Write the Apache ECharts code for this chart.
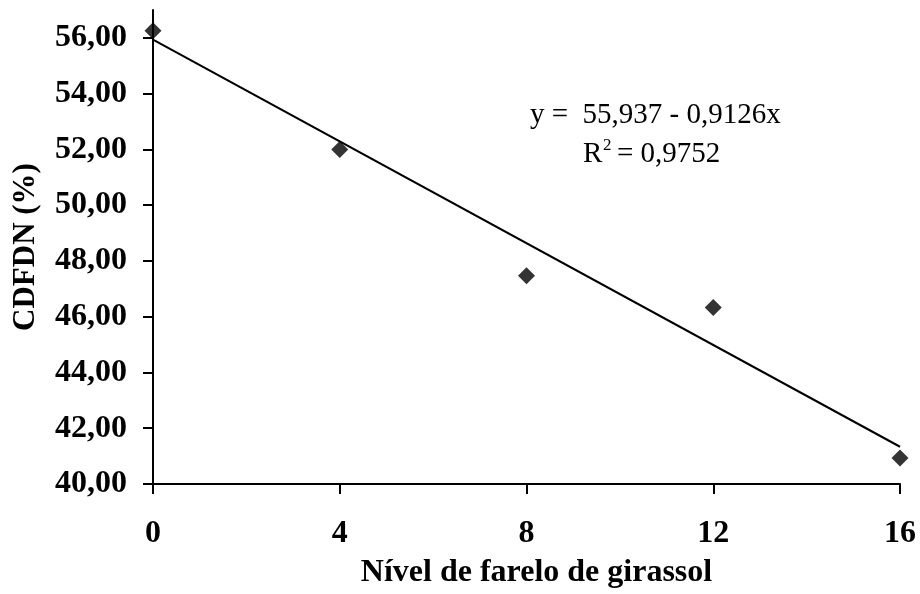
<!DOCTYPE html>
<html>
<head>
<meta charset="utf-8">
<script src="https://cdn.jsdelivr.net/npm/echarts@6/dist/echarts.min.js"></script>
<style>html,body{margin:0;padding:0;background:#fff}#c{width:920px;height:594px}</style>
</head>
<body>
<div id="c"></div>
<script>
const xValues = [0, 4, 8, 12, 16];
const cdfdn = [56.26, 52.0, 47.47, 46.33, 40.93];
const trendX = [0, 16];
const trendY = [55.937, 41.336];
const yTicks = [40, 42, 44, 46, 48, 50, 52, 54, 56];
const xTicks = [0, 4, 8, 12, 16];
const equationText = 'y =  55,937 - 0,9126x';
const r2Text = '= 0,9752';

const chart = echarts.init(document.getElementById('c'));
const fmt = v => v.toFixed(2).replace('.', ',');
const font = '"Liberation Serif", "Times New Roman", serif';
chart.setOption({
  animation: false,
  backgroundColor: '#fff',
  grid: { left: 153, right: 20, top: 10, bottom: 105, containLabel: false },
  xAxis: {
    type: 'value', min: 0, max: 16, interval: 4,
    name: 'Nível de farelo de girassol', nameLocation: 'middle', nameGap: 73,
    nameTextStyle: { fontFamily: font, fontWeight: 'bold', fontSize: 32, color: '#000', padding: [0, 0, 0, 20] },
    axisLine: { lineStyle: { color: '#000', width: 2 } },
    axisTick: { show: true, length: 10, lineStyle: { color: '#000', width: 2 }, customValues: xTicks },
    axisLabel: { customValues: xTicks, margin: 34, fontFamily: font, fontWeight: 'bold', fontSize: 32, color: '#000' },
    splitLine: { show: false }
  },
  yAxis: {
    type: 'value', min: 40, max: 57, interval: 2,
    name: 'CDFDN (%)', nameLocation: 'middle', nameGap: 112, nameRotate: 90,
    nameTextStyle: { fontFamily: font, fontWeight: 'bold', fontSize: 31, color: '#000' },
    axisLine: { show: true, lineStyle: { color: '#000', width: 2 } },
    axisTick: { show: true, length: 10, lineStyle: { color: '#000', width: 2 }, customValues: yTicks },
    axisLabel: { customValues: yTicks, margin: 26, formatter: fmt, fontFamily: font, fontWeight: 'bold', fontSize: 32, color: '#000' },
    splitLine: { show: false }
  },
  series: [
    {
      type: 'line', data: trendX.map((x, i) => [x, trendY[i]]),
      symbol: 'none', lineStyle: { color: '#000', width: 2 }, z: 2
    },
    {
      type: 'scatter', data: xValues.map((x, i) => [x, cdfdn[i]]),
      symbol: 'diamond', symbolSize: [17, 17], itemStyle: { color: '#000' }, z: 3
    }
  ],
  graphic: [
    { type: 'text', left: 530, top: 101, style: { text: equationText, font: '29px ' + font, fill: '#000' } },
    { type: 'text', left: 583, top: 140, style: { text: 'R', font: '29px ' + font, fill: '#000' } },
    { type: 'text', left: 603, top: 137, style: { text: '2', font: '17px ' + font, fill: '#000' } },
    { type: 'text', left: 617, top: 140, style: { text: r2Text, font: '29px ' + font, fill: '#000' } }
  ]
});
</script>
</body>
</html>
